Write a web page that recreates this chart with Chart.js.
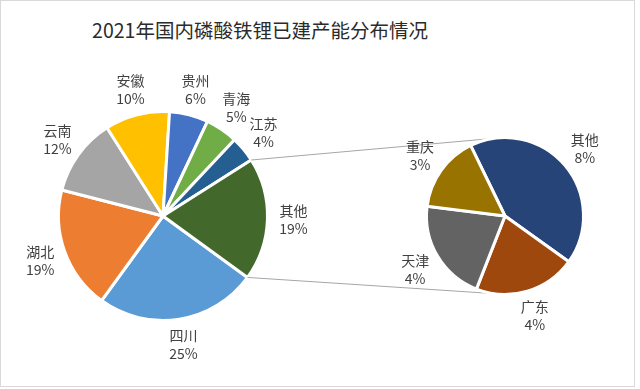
<!DOCTYPE html>
<html>
<head>
<meta charset="utf-8">
<script src="https://cdn.jsdelivr.net/npm/chart.js@4.4.1/dist/chart.umd.min.js"></script>
<style>
    body { margin: 0; background: #fff; }
    #wrap { position: relative; width: 640px; height: 389px; overflow: hidden; }
    #frame { position: absolute; left: 0; top: 0; width: 633px; height: 385px; border: 1px solid #d9d9d9; }
    #title {
        position: absolute; left: 0; width: 520px; top: 15px;
        text-align: center; font: 19.5px "Noto Sans CJK SC", sans-serif; color: #2b2b2b;
    }
    canvas { position: absolute; left: 0; top: 0; }
</style>
</head>
<body>
<div id="wrap">
    <div id="frame"></div>
    <div id="title">2021年国内磷酸铁锂已建产能分布情况</div>
    <canvas id="mainPie" width="640" height="389"></canvas>
    <canvas id="subPie" width="640" height="389"></canvas>
</div>
<script>
// main pie (share of total, %)
const mainLabels = ['四川', '湖北', '云南', '安徽', '贵州', '青海', '江苏', '其他'];
const mainValues = [25, 19, 12, 10, 6, 5, 4, 19];
const mainColors = ['#5B9BD5', '#ED7D31', '#A5A5A5', '#FFC000', '#4472C4', '#70AD47', '#255E91', '#43682B'];

// breakdown of "其他" (share of total, %)
const subLabels = ['其他', '广东', '天津', '重庆'];
const subValues = [8, 4, 4, 3];
const subColors = ['#264478', '#9E480E', '#636363', '#997300'];

const labelFont = '14px "Noto Sans CJK SC", sans-serif';

// draws "name / xx%" outside each slice
const outsideLabels = {
    id: 'outsideLabels',
    afterDatasetsDraw(chart) {
        const ctx = chart.ctx;
        const meta = chart.getDatasetMeta(0);
        const labels = chart.data.labels;
        const values = chart.data.datasets[0].data;
        ctx.save();
        ctx.font = labelFont;
        ctx.fillStyle = '#404040';
        ctx.textAlign = 'center';
        ctx.textBaseline = 'middle';
        meta.data.forEach((arc, i) => {
            const mid = (arc.startAngle + arc.endAngle) / 2;
            const d = arc.outerRadius + 26;
            const x = arc.x + Math.cos(mid) * d;
            const y = arc.y + Math.sin(mid) * d;
            ctx.fillText(labels[i], x, y - 9);
            ctx.fillText(values[i] + '%', x, y + 9);
        });
        ctx.restore();
    }
};

let mainChart = null;

// lines from the "其他" slice to the secondary pie
const connectors = {
    id: 'connectors',
    beforeDatasetsDraw(chart) {
        if (!mainChart) return;
        const other = mainChart.getDatasetMeta(0).data[mainLabels.length - 1];
        const sub = chart.getDatasetMeta(0).data[0];
        const ctx = chart.ctx;
        const R = other.outerRadius, r = sub.outerRadius;
        const tilt = 9 * Math.PI / 180;
        const a1 = -Math.PI / 2 - tilt, a2 = Math.PI / 2 + tilt;
        ctx.save();
        ctx.strokeStyle = '#a6a6a6';
        ctx.lineWidth = 1;
        ctx.beginPath();
        ctx.moveTo(other.x + Math.cos(other.startAngle) * R, other.y + Math.sin(other.startAngle) * R);
        ctx.lineTo(sub.x + Math.cos(a1) * r, sub.y + Math.sin(a1) * r);
        ctx.moveTo(other.x + Math.cos(other.endAngle) * R, other.y + Math.sin(other.endAngle) * R);
        ctx.lineTo(sub.x + Math.cos(a2) * r, sub.y + Math.sin(a2) * r);
        ctx.stroke();
        ctx.restore();
    }
};

function pieOptions(padding, rotation) {
    return {
        responsive: false,
        animation: false,
        rotation: rotation,
        layout: { padding: padding },
        plugins: { legend: { display: false }, tooltip: { enabled: false } }
    };
}

mainChart = new Chart(document.getElementById('mainPie'), {
    type: 'pie',
    data: {
        labels: mainLabels,
        datasets: [{
            data: mainValues,
            backgroundColor: mainColors,
            borderColor: '#fff',
            borderWidth: 3
        }]
    },
    options: pieOptions({ left: 57, top: 110, right: 371, bottom: 67 }, 126),
    plugins: [outsideLabels]
});

new Chart(document.getElementById('subPie'), {
    type: 'pie',
    data: {
        labels: subLabels,
        datasets: [{
            data: subValues,
            backgroundColor: subColors,
            borderColor: '#fff',
            borderWidth: 3
        }]
    },
    options: pieOptions({ left: 425, top: 136, right: 55, bottom: 93 }, -26),
    plugins: [outsideLabels, connectors]
});
</script>
</body>
</html>
